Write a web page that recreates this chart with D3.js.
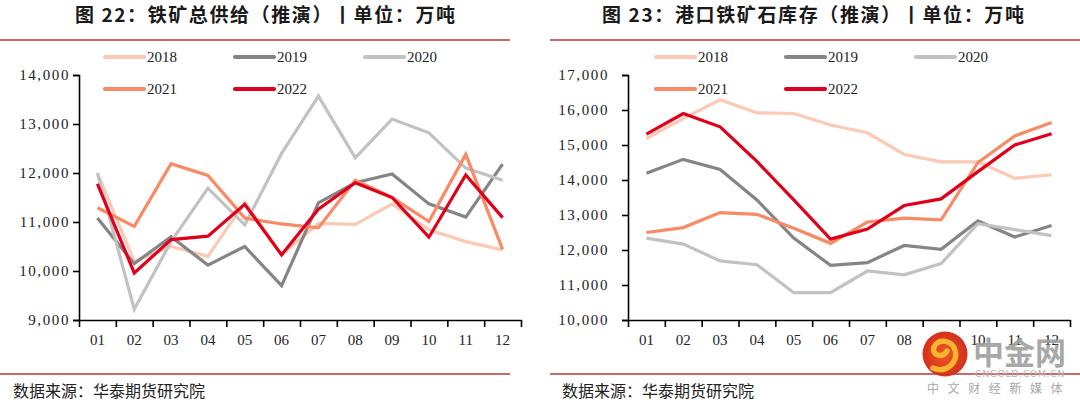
<!DOCTYPE html>
<html>
<head>
<meta charset="utf-8">
<script src="https://cdn.jsdelivr.net/npm/d3@7"></script>
<style>
  body { margin: 0; background: #fff; }
  svg { display: block; }
  .title { font-family: "Noto Sans CJK SC", sans-serif; font-weight: bold; font-size: 19px; fill: #1a1a1a; }
  .foot { font-family: "Noto Sans CJK SC", sans-serif; font-size: 16px; fill: #222; }
  .tick text, .leg text { font-family: "Liberation Serif", "Times New Roman", serif; font-size: 15px; fill: #222; }
</style>
</head>
<body>
<script>
let width = 1080, height = 406;

let months = ["01","02","03","04","05","06","07","08","09","10","11","12"];
let years = ["2018","2019","2020","2021","2022"];
let colors = ["#fccab4","#858585","#c2c2c2","#f88a66","#e0001b"];

// 图22 铁矿总供给
let supply2018 = [12000,10200,10500,10300,11400,10330,10970,10950,11370,10840,10600,10430];
let supply2019 = [11080,10150,10700,10120,10500,9700,11390,11800,11980,11370,11100,12180];
let supply2020 = [12000,9220,10600,11690,10940,12400,13570,12310,13100,12820,12100,11850];
let supply2021 = [11290,10910,12190,11950,11080,10960,10880,11850,11500,11010,12380,10440];
let supply2022 = [11780,9960,10640,10710,11360,10330,11260,11800,11500,10690,11960,11090];

// 图23 港口铁矿石库存
let stock2018 = [15180,15760,16290,15920,15900,15570,15350,14730,14520,14520,14050,14150];
let stock2019 = [14190,14590,14300,13430,12340,11560,11640,12130,12020,12830,12370,12700];
let stock2020 = [12340,12170,11690,11580,10780,10780,11400,11290,11610,12750,12580,12410];
let stock2021 = [12500,12640,13070,13020,12620,12190,12800,12910,12860,14500,15260,15640];
let stock2022 = [15310,15900,15520,14530,13430,12310,12600,13270,13460,14240,15000,15320];

let supplyTicks = [9000,10000,11000,12000,13000,14000];
let stockTicks = [10000,11000,12000,13000,14000,15000,16000,17000];

let svg = d3.select("body").append("svg")
    .attr("width", width)
    .attr("height", height);

function drawPanel(opt) {
  let g = svg.append("g");

  g.append("text").attr("class", "title")
    .attr("x", opt.titleX).attr("y", 22)
    .attr("textLength", opt.titleW)
    .attr("lengthAdjust", "spacing")
    .text(opt.title);

  g.append("line")
    .attr("x1", opt.ruleX0).attr("x2", opt.ruleX1)
    .attr("y1", 40).attr("y2", 40)
    .attr("stroke", "#c96a6a").attr("stroke-width", 2.2);
  g.append("line")
    .attr("x1", opt.ruleX0).attr("x2", opt.ruleX1)
    .attr("y1", 374).attr("y2", 374)
    .attr("stroke", "#c96a6a").attr("stroke-width", 2.2);

  g.append("text").attr("class", "foot")
    .attr("x", opt.footX).attr("y", 397)
    .text("数据来源：华泰期货研究院");

  let x0 = opt.axisX, x1 = opt.axisX + 442;
  let x = d3.scaleBand().domain(months).range([x0, x1]);
  let edges = d3.scaleLinear().domain([0, 12]).range([x0, x1]);
  let y = d3.scaleLinear().domain(opt.domain).range([320, 75]);

  // y axis
  g.append("g")
    .attr("transform", `translate(${x0},0)`)
    .call(d3.axisLeft(y).tickValues(opt.ticks).tickSizeOuter(0).tickSize(6)
      .tickPadding(opt.pad).tickFormat(d3.format(",")))
    .call(a => a.selectAll("path, line").attr("stroke", "#000").attr("stroke-width", 1.6))
    .call(a => a.selectAll("text").attr("letter-spacing", "1.6px"));

  // x axis: tick marks at band edges, labels at centres
  g.append("g")
    .attr("transform", "translate(0,320)")
    .call(d3.axisBottom(edges).ticks(12).tickSize(7).tickSizeOuter(0).tickFormat(""))
    .call(a => a.selectAll("path, line").attr("stroke", "#000").attr("stroke-width", 1.6));
  g.append("g")
    .attr("transform", "translate(0,320)")
    .call(d3.axisBottom(x).tickSize(0).tickPadding(14))
    .call(a => a.select(".domain").remove());

  let line = d3.line()
    .x((d, i) => x(months[i]) + x.bandwidth() / 2)
    .y(d => y(d));

  g.selectAll("path.series")
    .data(opt.series)
    .enter().append("path")
    .attr("class", "series")
    .attr("fill", "none")
    .attr("stroke", (d, i) => colors[i])
    .attr("stroke-width", 3.2)
    .attr("stroke-linejoin", "miter")
    .attr("d", d => line(d));

  // legend
  let legX = [opt.legX, opt.legX + 130, opt.legX + 260];
  let leg = g.selectAll("g.leg")
    .data(years)
    .enter().append("g")
    .attr("class", "leg")
    .attr("transform", (d, i) => `translate(${legX[i % 3]},${i < 3 ? 57 : 89})`);
  leg.append("line")
    .attr("x1", 2).attr("x2", 41)
    .attr("stroke", (d, i) => colors[i])
    .attr("stroke-width", 4.2)
    .attr("stroke-linecap", "round");
  leg.append("text")
    .attr("x", 44).attr("dy", "0.35em")
    .text(d => d);
}

drawPanel({
  title: "图 22：铁矿总供给（推演）丨单位：万吨",
  titleX: 75, titleW: 380, ruleX0: 0, ruleX1: 510, footX: 13,
  axisX: 79, domain: [9000, 14000], ticks: supplyTicks, pad: 3,
  legX: 103,
  series: [supply2018, supply2019, supply2020, supply2021, supply2022]
});

drawPanel({
  title: "图 23：港口铁矿石库存（推演）丨单位：万吨",
  titleX: 602, titleW: 422, ruleX0: 550, ruleX1: 1080, footX: 562,
  axisX: 628, domain: [10000, 17000], ticks: stockTicks, pad: 13,
  legX: 654,
  series: [stock2018, stock2019, stock2020, stock2021, stock2022]
});

// watermark
let wm = svg.append("g");
let grad = svg.append("defs").append("radialGradient").attr("id", "wmg");
grad.append("stop").attr("offset", "0%").attr("stop-color", "#ee5a22");
grad.append("stop").attr("offset", "100%").attr("stop-color", "#d42f1c");
wm.append("circle").attr("cx", 945).attr("cy", 354).attr("r", 22.5).attr("fill", "url(#wmg)");
wm.append("path")
  .attr("d", "M933,368 C946,374 959,362 955,350 C952,340 938,338 934,347 C931,355 943,359 947,351")
  .attr("fill", "none").attr("stroke", "#f8b530").attr("stroke-width", 5.5).attr("stroke-linecap", "round");
wm.append("text").attr("x", 973).attr("y", 364)
  .style("font-family", "Noto Sans CJK SC").style("font-weight", "bold").style("font-size", "31px")
  .attr("fill", "#9c9c9c").attr("fill-opacity", 0.9).text("中金网");
wm.append("text").attr("x", 975).attr("y", 377)
  .style("font-family", "DejaVu Sans").style("font-size", "9.5px")
  .attr("fill", "#b5b5b5").attr("letter-spacing", "0.5px").text("CNGOLD.COM.CN");
wm.append("text").attr("x", 927).attr("y", 393)
  .style("font-family", "Noto Sans CJK SC").style("font-size", "12px")
  .attr("fill", "#a8a8a8").attr("letter-spacing", "8.6px").text("中文财经新媒体");
</script>
</body>
</html>
